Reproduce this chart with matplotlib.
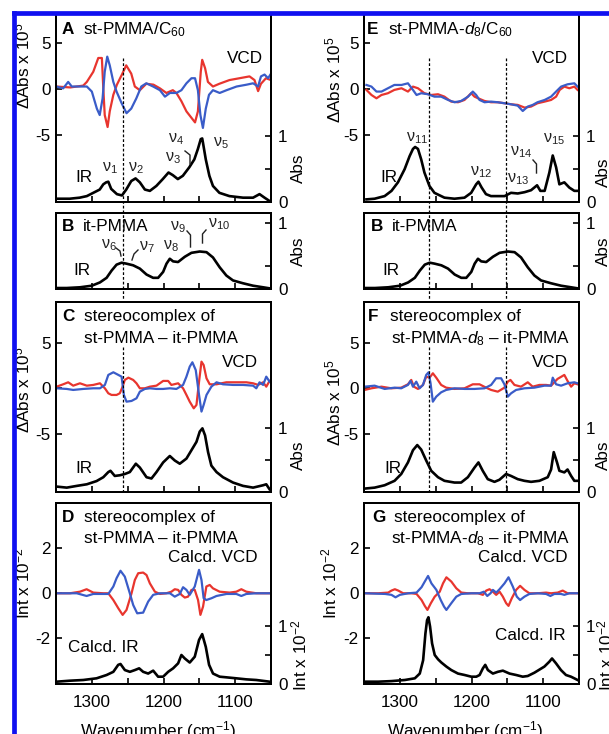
import matplotlib
matplotlib.use("Agg")
import matplotlib.pyplot as plt
from matplotlib.lines import Line2D

plt.rcParams["font.family"] = ["Liberation Sans", "DejaVu Sans"]
plt.rcParams["mathtext.fontset"] = "custom"
plt.rcParams["mathtext.rm"] = "Liberation Sans"
plt.rcParams["mathtext.it"] = "Liberation Sans:italic"
plt.rcParams["mathtext.bf"] = "Liberation Sans:bold"

# ---- data: (wavenumber cm-1, value) ----
A_RED = [(1350, 0.3), (1330, 0.2), (1312, 0.4), (1307, 0.8), (1298, 1.9), (1291, 3.4), (1286, 3.4),
         (1284, 0.1), (1282, -2.8), (1278, -4.1), (1275, -2.4), (1270, -0.6), (1265, 0.5), (1258, 1.6),
         (1252, 2.6), (1245, 1.7), (1240, 0.3), (1233, -0.1), (1224, 0.6), (1214, 0.5), (1205, 0.1),
         (1196, -0.4), (1187, -0.1), (1182, -0.4), (1175, -1.3), (1168, -2.4), (1161, -3.1), (1156, -3.6),
         (1152, -2.4), (1148, 1.9), (1146, 3.2), (1142, 2.3), (1138, 0.8), (1131, 0.3), (1122, 0.6),
         (1108, 1.0), (1094, 1.2), (1080, 1.4), (1073, 1.0), (1068, -0.2), (1064, 0.6), (1057, 1.2), (1050, 1.0)]
A_BLUE = [(1350, 0.3), (1340, 0.1), (1333, 0.8), (1328, 0.3), (1317, 0.3), (1307, 0.3), (1300, -0.25),
          (1293, -2.1), (1289, -2.8), (1285, -1.0), (1282, 1.9), (1278.5, 3.55), (1275, 2.6), (1270, 0.8),
          (1265.5, -0.25), (1258.5, -1.5), (1251.6, -2.6), (1245, -2.1), (1238, -1.0), (1231, 0.3),
          (1224, 0.65), (1214.5, 0.3), (1205, -0.1), (1198, -0.8), (1191, -0.4), (1182, -0.4), (1175, -0.1),
          (1168, 0.65), (1161, 1.2), (1156, 1.2), (1152, -0.1), (1148.5, -2.8), (1145, -4.2), (1141, -2.1),
          (1136.5, -0.6), (1131, -0.1), (1121.6, -0.4), (1112, -0.1), (1098, 0.3), (1084, 0.5), (1075, 0.65),
          (1068, 0.3), (1064, 1.4), (1059, 1.6), (1054, 1.2), (1050, 1.7)]
A_IR = [(1350, 0.05), (1331, 0.05), (1317, 0.066), (1307, 0.09), (1298, 0.14), (1289, 0.19), (1284, 0.27),
        (1280, 0.3), (1277, 0.31), (1273, 0.2), (1265, 0.12), (1258, 0.10), (1252, 0.19), (1245, 0.32),
        (1239, 0.36), (1233, 0.30), (1226, 0.19), (1219, 0.17), (1210, 0.245), (1201, 0.35), (1193, 0.45),
        (1187, 0.41), (1180, 0.35), (1173, 0.40), (1164, 0.53), (1157, 0.65), (1152, 0.81), (1148, 0.96),
        (1146, 0.97), (1145, 0.91), (1141, 0.65), (1136, 0.40), (1131, 0.245), (1122, 0.14), (1108, 0.09),
        (1089, 0.066), (1075, 0.066), (1066, 0.12), (1059, 0.066), (1052, 0.015)]

IT_PMMA_IR = [(1349, 0.015), (1335, 0.015), (1316.6, 0.026), (1300, 0.05), (1288.7, 0.10), (1279.4, 0.17),
              (1272.4, 0.28), (1265.5, 0.37), (1258.5, 0.40), (1251.6, 0.385), (1242.3, 0.36), (1233, 0.31),
              (1223.7, 0.22), (1214.5, 0.17), (1207.5, 0.17), (1200.5, 0.26), (1195.8, 0.385), (1191.2, 0.46),
              (1186.6, 0.42), (1179.7, 0.41), (1170.3, 0.49), (1161, 0.55), (1149.4, 0.57), (1140, 0.56),
              (1131, 0.48), (1121.6, 0.33), (1112.3, 0.205), (1103, 0.13), (1089, 0.087), (1075, 0.05),
              (1061, 0.026), (1052, 0.01)]

C_RED = [(1349, 0.18), (1340, 0.44), (1333, 0.66), (1326, 0.29), (1316.6, 0.55), (1307, 0.29), (1298, 0.37),
         (1288.7, 0.55), (1281.8, 0), (1277, -0.55), (1272.5, -0.73), (1265.5, -0.73), (1261, -0.55),
         (1257, 0.18), (1254, 0.92), (1249, 1.17), (1242.3, 0.92), (1237.7, 0.55), (1233, 0), (1226, 0),
         (1219, 0.18), (1209.8, 0.29), (1200.5, 0.81), (1193.5, 0.81), (1189, 0.37), (1179.6, 0.55),
         (1172.7, 0), (1168, -0.73), (1163.4, -1.47), (1157.8, -2.2), (1154, -1.83), (1150.4, 0.73),
         (1147, 2.93), (1144, 2.56), (1140, 1.1), (1135.5, 0.44), (1126, 0.44), (1112.3, 0.66),
         (1098.4, 0.66), (1084.4, 0.66), (1075, 0.55), (1068, 0.37), (1061, 0.66), (1056.6, 0.18), (1052, 0.81)]
C_BLUE = [(1349, 0), (1335, -0.07), (1326, -0.18), (1312, -0.07), (1298, 0), (1288.7, 0), (1281.8, 0.37),
          (1277, 1.47), (1270, 1.76), (1263, 1.47), (1258.5, 1.28), (1255.3, -0.73), (1251.6, -1.47),
          (1244.6, -1.39), (1237.7, -1.1), (1233, -0.37), (1226, -0.07), (1219, 0), (1209.8, -0.07),
          (1200.5, -0.07), (1191.2, 0), (1182, -0.07), (1172.7, 0.37), (1168, 1.28), (1163.4, 2.38),
          (1159.7, 2.86), (1155, 2.0), (1150.4, -0.73), (1147, -2.56), (1144, -1.83), (1140, -0.73),
          (1133.2, 0.18), (1126, 0.66), (1117, 0.44), (1103, 0.37), (1089, 0.37), (1075, 0.29), (1070.5, 0),
          (1066, 0.66), (1061, 0.37), (1056.6, 1.28), (1052, 0.73)]
C_IR = [(1349, 0.084), (1335, 0.068), (1321, 0.095), (1307, 0.12), (1293.4, 0.17), (1284, 0.23), (1277, 0.31),
        (1274, 0.33), (1268, 0.25), (1261, 0.26), (1254, 0.28), (1247, 0.31), (1238.6, 0.44), (1233, 0.38),
        (1223.7, 0.23), (1216.8, 0.21), (1209.8, 0.31), (1200.5, 0.46), (1191.2, 0.56), (1184.3, 0.49),
        (1177.3, 0.44), (1168, 0.52), (1161, 0.65), (1154, 0.78), (1149.4, 0.94), (1145.7, 0.99),
        (1142, 0.88), (1137.8, 0.62), (1133.2, 0.41), (1126, 0.31), (1117, 0.23), (1103, 0.147),
        (1089, 0.095), (1075, 0.068), (1061, 0.105), (1056.6, 0.12), (1052, 0.042)]

D_RED = [(1349, 0), (1330.5, 0), (1316.6, 0.07), (1307.3, 0.18), (1298, 0.03), (1284, 0), (1277, 0),
         (1270, -0.3), (1263, -0.67), (1257, -0.96), (1251.6, -0.74), (1244.6, 0), (1240, 0.59),
         (1235.3, 0.89), (1228.4, 0.92), (1223.7, 0.81), (1219, 0.44), (1212, 0.07), (1205, -0.03), (1196, 0),
         (1189, 0.07), (1184.3, 0.18), (1179.6, 0.15), (1175, -0.07), (1170.3, -0.19), (1165.7, -0.15),
         (1161, 0.15), (1156.4, 0.15), (1151.8, -0.3), (1148.5, -0.96), (1144.8, -0.59), (1140.2, 0.3),
         (1135.5, 0.37), (1131, 0.22), (1121.6, 0.07), (1107.7, 0.03), (1098.4, 0.07), (1091.4, 0.18),
         (1084.4, 0.07), (1070.5, 0), (1052, 0)]
D_BLUE = [(1349, 0), (1321, 0), (1307.3, -0.12), (1298, -0.03), (1277, -0.03), (1270, 0.3), (1265.5, 0.67),
          (1260, 1.0), (1254, 0.74), (1247, 0), (1242.3, -0.52), (1236.7, -0.89), (1228.4, -0.86),
          (1221.4, -0.37), (1214.4, -0.07), (1205, 0), (1191, 0), (1184.3, -0.15), (1177.3, -0.03),
          (1172.7, 0.27), (1168, 0.15), (1163.4, -0.07), (1156.4, 0.3), (1150.4, 1.04), (1147, 0.59),
          (1144, -0.22), (1140.2, -0.3), (1133, -0.22), (1126, -0.12), (1112, -0.03), (1098.4, -0.03),
          (1091.4, -0.12), (1084.4, -0.03), (1070.5, 0), (1052, 0)]
D_IR = [(1349, 0.04), (1330.5, 0.057), (1312, 0.069), (1293.4, 0.098), (1279.4, 0.155), (1270, 0.21),
        (1263.2, 0.33), (1260, 0.345), (1253.9, 0.24), (1246.9, 0.21), (1240, 0.24), (1234, 0.27),
        (1228.4, 0.21), (1221.4, 0.18), (1214.4, 0.23), (1207.5, 0.126), (1200.5, 0.126), (1193.5, 0.21),
        (1186.6, 0.27), (1179.6, 0.356), (1175, 0.5), (1170.3, 0.44), (1163.4, 0.37), (1156.4, 0.47),
        (1150.4, 0.76), (1146, 0.86), (1141, 0.64), (1136.4, 0.33), (1130.9, 0.18), (1121.6, 0.126),
        (1112.3, 0.115), (1098.4, 0.098), (1084.4, 0.08), (1070.5, 0.069), (1052, 0.04)]

E_RED = [(1347, -0.07), (1340, -0.62), (1333, -0.98), (1326, -0.62), (1317, -0.43), (1308, -0.07), (1298, 0.11),
         (1289, -0.25), (1282, 0.29), (1275, 0.11), (1266, -0.43), (1256.5, -0.62), (1247, -0.54), (1238, -0.8),
         (1228.6, -1.34), (1219, -1.41), (1210, -1.16), (1200.7, -0.43), (1196, -0.8), (1191, -0.98),
         (1182, -1.27), (1173, -1.41), (1163.5, -1.41), (1154, -1.52), (1145, -1.63), (1135.6, -1.7),
         (1126, -1.99), (1117, -1.88), (1108, -1.52), (1098, -1.34), (1089, -1.16), (1082, -0.8),
         (1077, -0.07), (1070.5, 0.29), (1063.5, 0.11), (1056.5, 0.29), (1052, -0.07)]
E_BLUE = [(1347, 0.47), (1340, 0.29), (1333, -0.25), (1326, -0.25), (1317, 0.11), (1308, 0.47), (1298, 0.47),
          (1289, 0.65), (1282, -0.07), (1277, -0.62), (1270.5, -0.43), (1261, -0.54), (1252, -0.8),
          (1242.6, -0.8), (1233, -1.16), (1224, -1.41), (1214.7, -1.27), (1205, -0.8), (1198.4, -0.25),
          (1193.7, -0.62), (1189, -1.16), (1182, -1.41), (1173, -1.34), (1163.5, -1.41), (1154, -1.52),
          (1145, -1.63), (1135.6, -1.78), (1128.6, -2.36), (1121.6, -1.88), (1114.7, -1.7), (1108, -1.41),
          (1098, -1.16), (1089, -0.8), (1082, -0.25), (1075, 0.29), (1066, 0.54), (1056.5, 0.65), (1052, 0.29)]
E_IR = [(1347, 0.04), (1335.6, 0.05), (1321.6, 0.09), (1312, 0.17), (1303, 0.30), (1293.7, 0.5), (1286.7, 0.70),
        (1282, 0.81), (1279, 0.84), (1275, 0.81), (1270.5, 0.65), (1266, 0.45), (1259, 0.245), (1252, 0.14),
        (1238, 0.066), (1224, 0.05), (1210, 0.066), (1200.7, 0.14), (1193.7, 0.27), (1190.5, 0.31),
        (1186, 0.22), (1180, 0.12), (1173, 0.09), (1163.5, 0.09), (1154, 0.09), (1145, 0.14), (1135.6, 0.13),
        (1126, 0.15), (1117, 0.18), (1108.6, 0.255), (1104, 0.17), (1098, 0.17), (1091.4, 0.45),
        (1086.7, 0.71), (1082, 0.53), (1077.4, 0.27), (1070.5, 0.30), (1063.5, 0.22), (1056.5, 0.17),
        (1052, 0.17)]

F_RED = [(1349.5, -0.18), (1340, 0), (1326, 0.18), (1312.3, 0), (1298.4, 0.07), (1289, 0.44), (1284.4, 0.92),
         (1280.7, 0.18), (1275, -0.07), (1268, 0.37), (1263.5, 1.28), (1258.8, 1.17), (1254.2, 1.65),
         (1249.5, 1.17), (1242.6, 0.37), (1235.6, 0.07), (1224, -0.07), (1210, 0), (1198.4, 0.44), (1189, 0.44),
         (1179.8, 0.07), (1172.8, -0.18), (1163.5, -0.37), (1154.2, 0.07), (1149.5, 0.73), (1145.8, 0.92),
         (1140.2, 0.37), (1131, 0.18), (1121.6, 0.66), (1114.7, 0.18), (1105.3, 0.37), (1096, 0.37),
         (1089, 0.29), (1080, 1.03), (1070.5, 1.47), (1066, 0.81), (1061, 0.18), (1056.5, 0.55), (1052, 0.44)]
F_BLUE = [(1349.5, 0.18), (1335.6, 0.29), (1321.6, -0.07), (1307.7, 0.07), (1298.4, 0), (1289, 0.37),
          (1285.3, 0.81), (1282, 0.18), (1277.4, 0.73), (1272.8, 0), (1268, 0.37), (1263.5, 1.47),
          (1260.2, 1.76), (1257.4, 0.55), (1254.2, -1.47), (1249.5, -0.92), (1242.6, -0.44), (1235.6, -0.18),
          (1224, 0), (1210, -0.07), (1196, -0.07), (1182, 0), (1172.8, 0.37), (1165.8, 1.1), (1158.8, 1.1),
          (1154.2, 0.44), (1149.5, -0.92), (1144.9, -0.55), (1137.9, -0.18), (1126.3, 0), (1112.3, 0.07),
          (1098.4, 0.29), (1089, 0.29), (1086.7, 1.17), (1082, 0.44), (1075, 0.29), (1066, 0.55),
          (1056.5, 0.66), (1052, 0.55)]
F_IR = [(1349.5, 0.053), (1335.6, 0.068), (1321.6, 0.105), (1307.7, 0.174), (1298.4, 0.28), (1289, 0.46),
        (1282, 0.65), (1276, 0.73), (1270.5, 0.66), (1263.5, 0.49), (1256.5, 0.33), (1247, 0.23),
        (1238, 0.174), (1224, 0.147), (1214.7, 0.147), (1205.3, 0.23), (1196, 0.38), (1190.5, 0.46),
        (1184.5, 0.33), (1177.5, 0.2), (1168.1, 0.158), (1161.2, 0.19), (1151.9, 0.28), (1145, 0.25),
        (1135.6, 0.2), (1126.3, 0.174), (1117, 0.158), (1105.3, 0.174), (1093.7, 0.23), (1089, 0.35),
        (1085.3, 0.62), (1080.7, 0.46), (1077.4, 0.33), (1070.5, 0.305), (1066, 0.35), (1061, 0.25),
        (1056.5, 0.174), (1052, 0.174)]

G_RED = [(1349, 0), (1330.5, 0), (1316.6, 0.03), (1312, 0.12), (1307.3, 0.18), (1302.6, 0.12), (1295.7, 0),
         (1284, 0), (1277, -0.03), (1270, -0.3), (1265.5, -0.56), (1261.8, -0.74), (1257, -0.44),
         (1251.6, -0.15), (1244.6, 0.07), (1240, 0.44), (1235.3, 0.71), (1228.4, 0.52), (1221.4, 0.22),
         (1214.4, 0.03), (1205.2, 0), (1191.2, 0), (1184.3, -0.07), (1179.6, 0.12), (1175, 0.18),
         (1170.3, 0.07), (1165.7, -0.07), (1161, 0.07), (1156.4, -0.15), (1151.8, -0.44), (1148.5, -0.56),
         (1143.9, -0.22), (1137.8, 0.15), (1132.3, 0.33), (1126.2, 0.15), (1119.3, 0), (1107.7, 0),
         (1096, 0.03), (1089, 0), (1079.8, 0.03), (1072.8, 0.12), (1065.9, 0), (1052, 0)]
G_BLUE = [(1349, 0), (1321, -0.03), (1312, -0.07), (1306.4, -0.18), (1300.3, -0.07), (1288.7, 0), (1277, 0.03),
          (1270, 0.27), (1265.5, 0.52), (1260.9, 0.77), (1256.2, 0.44), (1249.3, 0.15), (1243.2, -0.3),
          (1238.6, -0.59), (1235.3, -0.74), (1228.4, -0.44), (1221.4, -0.15), (1214.4, -0.03), (1200.5, 0),
          (1188.9, 0), (1182.9, 0.07), (1178.2, -0.12), (1173.6, 0), (1170.3, 0.15), (1165.7, 0.03),
          (1161, 0.18), (1154.1, 0.44), (1148.5, 0.71), (1142.5, 0.3), (1136.9, -0.15), (1132.3, -0.3),
          (1126.2, -0.15), (1119.3, -0.03), (1107.7, 0), (1096, -0.03), (1090, -0.12), (1084.4, -0.03),
          (1075.2, -0.03), (1070.5, -0.07), (1063.6, 0), (1052, 0)]
G_IR = [(1349, 0.04), (1330.5, 0.04), (1312, 0.05), (1293.4, 0.069), (1279.4, 0.098), (1272.5, 0.18),
        (1267.8, 0.41), (1264.6, 0.87), (1262.3, 1.10), (1260.4, 1.15), (1258.1, 0.99), (1255.3, 0.70),
        (1251.6, 0.5), (1246.9, 0.425), (1242.3, 0.37), (1235.3, 0.3), (1228.4, 0.24), (1219.1, 0.18),
        (1209.8, 0.155), (1200.5, 0.126), (1193.5, 0.126), (1188.9, 0.155), (1184.3, 0.27), (1181, 0.33),
        (1177.3, 0.24), (1170.3, 0.18), (1163.4, 0.21), (1156.4, 0.23), (1147.1, 0.18), (1137.8, 0.155),
        (1128.6, 0.126), (1121.6, 0.138), (1112.3, 0.195), (1098.4, 0.3), (1091.4, 0.385), (1087.7, 0.44),
        (1082.1, 0.356), (1075.2, 0.24), (1068.2, 0.155), (1061.2, 0.126), (1056.6, 0.098), (1052, 0.069)]

MARK_LEFT = [1257]
MARK_RIGHT = [1259, 1152]

RED = "#e8352e"
BLUE = "#3a5cc8"
FS = 12.3

W, H = 609, 734
fig = plt.figure(figsize=(W / 100, H / 100), dpi=100)


def ftext(px, py, s, **kw):
    kw.setdefault("fontsize", FS)
    return fig.text(px / W, 1 - py / H, s, **kw)


def style(ax):
    for sp in ax.spines.values():
        sp.set_linewidth(1.4)
    ax.tick_params(direction="in", length=4, width=1.2, labelsize=FS)


def panel(l, t, r, b, vcd_lim=None, vcd_ticks=None, ir_lim=(0, 1), ir_ticks=(0, 0.5, 1), xlabels=False):
    ax = fig.add_axes([l / W, 1 - b / H, (r - l) / W, (b - t) / H])
    ax.set_xlim(1350, 1050)
    ax.set_xticks([1300, 1250, 1200, 1150, 1100])
    ax.set_xticklabels(["1300", "", "1200", "", "1100"] if xlabels else [])
    style(ax)
    ax.tick_params(axis="x", pad=8)
    if vcd_lim is not None:
        ax.set_ylim(*vcd_lim)
        ax.set_yticks(vcd_ticks)
        ax.set_yticklabels([str(v) for v in vcd_ticks])
        ax.tick_params(axis="y", pad=4)
    else:
        ax.set_yticks([])
    ir = ax.twinx()
    ir.set_ylim(*ir_lim)
    ir.set_yticks(ir_ticks)
    ir.set_yticklabels(["0"] + [""] * (len(ir_ticks) - 2) + ["1"])
    style(ir)
    ir.tick_params(axis="y", pad=5)
    return ax, ir


def draw(ax, pairs, color, lw):
    ax.plot([p[0] for p in pairs], [p[1] for p in pairs], color=color, lw=lw, solid_joinstyle="round")


VCD_LW, IR_LW = 1.6, 1.9
cols = [(56, 271), (364.3, 579)]
AE = dict(vcd_lim=(-12.25, 8.18), vcd_ticks=[-5, 0, 5], ir_lim=(0, 2.87))
CF = dict(vcd_lim=(-11.4, 9.52), vcd_ticks=[-5, 0, 5], ir_lim=(0, 2.96))
DG = dict(vcd_lim=(-4.03, 4.01), vcd_ticks=[-2, 0, 2], ir_lim=(0, 3.12))

axes = {}
for ci, (l, r) in enumerate(cols):
    top = panel(l, 14, r, 202, **AE)
    mid = panel(l, 212.7, r, 289, ir_lim=(0, 1.16), ir_ticks=(0, 0.35, 1))
    cpan = panel(l, 301.7, r, 492, **CF)
    bot = panel(l, 503, r, 684, xlabels=True, **DG)
    axes[ci] = (top, mid, cpan, bot)

# left column curves
(aA, iA), (aB, iB), (aC, iC), (aD, iD) = axes[0]
draw(aA, A_RED, RED, VCD_LW); draw(aA, A_BLUE, BLUE, VCD_LW); draw(iA, A_IR, "black", IR_LW)
draw(iB, IT_PMMA_IR, "black", IR_LW)
draw(aC, C_RED, RED, VCD_LW); draw(aC, C_BLUE, BLUE, VCD_LW); draw(iC, C_IR, "black", IR_LW)
draw(aD, D_RED, RED, VCD_LW); draw(aD, D_BLUE, BLUE, VCD_LW); draw(iD, D_IR, "black", IR_LW)

# right column curves
(aE, iE), (aB2, iB2), (aF, iF), (aG, iG) = axes[1]
draw(aE, E_RED, RED, VCD_LW); draw(aE, E_BLUE, BLUE, VCD_LW); draw(iE, E_IR, "black", IR_LW)
draw(iB2, IT_PMMA_IR, "black", IR_LW)
draw(aF, F_RED, RED, VCD_LW); draw(aF, F_BLUE, BLUE, VCD_LW); draw(iF, F_IR, "black", IR_LW)
draw(aG, G_RED, RED, VCD_LW); draw(aG, G_BLUE, BLUE, VCD_LW); draw(iG, G_IR, "black", IR_LW)


# dashed marker lines crossing panels
def vdash(ax, wn, segs):
    xf = fig.transFigure.inverted().transform(ax.transData.transform((wn, 0)))[0]
    for y0, y1 in segs:
        fig.add_artist(Line2D([xf, xf], [1 - y0 / H, 1 - y1 / H], color="black", lw=0.9,
                              linestyle=(0, (2.2, 1.6)), zorder=1))


for wn in MARK_LEFT:
    vdash(aA, wn, [(58, 300), (347, 492)])
for wn in MARK_RIGHT:
    vdash(aE, wn, [(58, 300), (347, 492)])

# ---- texts ----
NU = 11.5
for dx, lab, title in [(0, "A", "st-PMMA/C$_{60}$"), (305, "E", "st-PMMA-$d_8$/C$_{60}$")]:
    ftext(62 + dx, 34, lab, weight="bold", va="baseline")
    ftext(83 + dx, 34, title, va="baseline")
    ftext(263 + dx, 63, "VCD", ha="right", va="baseline")
    ftext(75 + dx, 182, "IR", va="baseline")
for dx in (0, 309):
    ftext(62 + dx, 231, "B", weight="bold", va="baseline")
    ftext(83 + dx, 231, "it-PMMA", va="baseline")
    ftext(73 + dx, 275, "IR", va="baseline")
for dx, lab, sub in [(0, "C", "st-PMMA \u2013 it-PMMA"), (306, "F", "st-PMMA-$d_8$ \u2013 it-PMMA")]:
    ftext(62 + dx, 321, lab, weight="bold", va="baseline")
    ftext(84 + dx, 321, "stereocomplex of", va="baseline")
    ftext(238 if not dx else 570, 343, sub, ha="right", va="baseline")
    ftext(258 if not dx else 568, 367, "VCD", ha="right", va="baseline")
    ftext(75 + dx + (3 if dx else 0), 473, "IR", va="baseline")
for dx, lab, sub in [(0, "D", "st-PMMA \u2013 it-PMMA"), (310, "G", "st-PMMA-$d_8$ \u2013 it-PMMA")]:
    ftext(62 + dx, 522, lab, weight="bold", va="baseline")
    ftext(84 + dx, 522, "stereocomplex of", va="baseline")
    ftext(238 if not dx else 570, 543, sub, ha="right", va="baseline")
    ftext(258 if not dx else 568, 562, "Calcd. VCD", ha="right", va="baseline")
ftext(68, 652, "Calcd. IR", va="baseline")
ftext(566, 640, "Calcd. IR", ha="right", va="baseline")

# mode labels
for px, py, s in [(102, 171, "\u03bd$_1$"), (128, 171, "\u03bd$_2$"), (165, 161, "\u03bd$_3$"),
                  (168, 142, "\u03bd$_4$"), (213, 146, "\u03bd$_5$"),
                  (101, 248, "\u03bd$_6$"), (139, 250, "\u03bd$_7$"), (163, 249, "\u03bd$_8$"),
                  (170, 230, "\u03bd$_9$"), (208, 227, "\u03bd$_{10}$"),
                  (406, 141, "\u03bd$_{11}$"), (470, 175, "\u03bd$_{12}$"), (507, 182, "\u03bd$_{13}$"),
                  (510, 155, "\u03bd$_{14}$"), (543, 142, "\u03bd$_{15}$")]:
    ftext(px, py, s, fontsize=NU, va="baseline", color="#222222")

for pts in [[(185, 151), (190, 155), (190, 164)],
            [(116, 248), (120, 251), (121, 256)],
            [(132, 260), (134, 254), (138, 250)],
            [(187, 231), (190.5, 235), (190.5, 247)],
            [(206, 230), (202.5, 234), (202.5, 243)],
            [(533, 160), (536.5, 164), (536.5, 173)]]:
    fig.add_artist(Line2D([p[0] / W for p in pts], [1 - p[1] / H for p in pts], color="#222222", lw=1.0))

# axis labels
for px, py, s in [(22, 66, "\u0394Abs x 10$^5$"), (22, 390, "\u0394Abs x 10$^5$"), (22, 583, "Int x 10$^{-2}$"),
                  (298, 168, "Abs"), (298, 251, "Abs"), (298, 455, "Abs"), (299, 655, "Int x 10$^{-2}$"),
                  (333, 80, "\u0394Abs x 10$^5$"), (333, 403, "\u0394Abs x 10$^5$"), (329, 583, "Int x 10$^{-2}$"),
                  (603, 172, "Abs"), (603, 251, "Abs"), (603, 455, "Abs"), (605, 655, "Int x 10$^{-2}$")]:
    ftext(px, py, s, rotation=90, ha="center", va="center")
ftext(158, 719, "Wavenumber (cm$^{-1}$)", ha="center", va="top")
ftext(465, 719, "Wavenumber (cm$^{-1}$)", ha="center", va="top")

# blue frame
fig.add_artist(Line2D([14 / W, 1.0], [1 - 12.5 / H] * 2, color="#1010f0", lw=3.4, zorder=5))
fig.add_artist(Line2D([14 / W] * 2, [1 - 12.5 / H, 0], color="#1010f0", lw=3.4, zorder=5))

fig.savefig("out.png", dpi=100)
